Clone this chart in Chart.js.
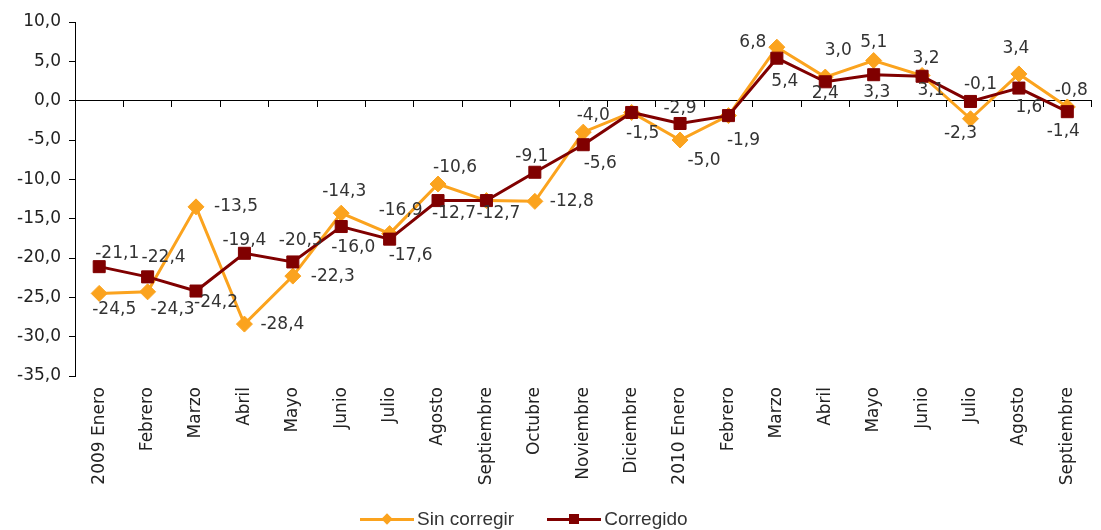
<!DOCTYPE html>
<html>
<head>
<meta charset="utf-8">
<script src="https://cdn.jsdelivr.net/npm/chart.js@4.4.0/dist/chart.umd.min.js"></script>
<style>
	body { margin: 0; background: #fff; }
	#wrap { position: relative; width: 1101px; height: 530px; }
	#legend { position: absolute; left: 360px; top: 508px; display: flex; align-items: center;
		font-family: 'Liberation Sans', Arial, sans-serif; font-size: 19px; color: #333; }
	.item { display: flex; align-items: center; }
	.swatch { position: relative; width: 54px; height: 3px; margin-right: 3px; }
	.mark { position: absolute; top: 50%; left: 50%; }
</style>
</head>
<body>
<div id="wrap">
	<canvas id="chart" width="1101" height="530"></canvas>
	<div id="legend"></div>
</div>
<script>
const months = ['2009 Enero', 'Febrero', 'Marzo', 'Abril', 'Mayo', 'Junio', 'Julio', 'Agosto',
	'Septiembre', 'Octubre', 'Noviembre', 'Diciembre', '2010 Enero', 'Febrero', 'Marzo', 'Abril',
	'Mayo', 'Junio', 'Julio', 'Agosto', 'Septiembre'];

const sinCorregir = [-24.5, -24.3, -13.5, -28.4, -22.3, -14.3, -16.9, -10.6, -12.7, -12.8, -4.0,
	-1.5, -5.0, -1.9, 6.8, 3.0, 5.1, 3.2, -2.3, 3.4, -0.8];
const corregido = [-21.1, -22.4, -24.2, -19.4, -20.5, -16.0, -17.6, -12.7, -12.7, -9.1, -5.6,
	-1.5, -2.9, -1.9, 5.4, 2.4, 3.3, 3.1, -0.1, 1.6, -1.4];

const yTicks = [-35, -30, -25, -20, -15, -10, -5, 0, 5, 10];

// label offsets from each point, null = no label shown
const sinLabelPos = [[15, 16], [25, 18], [40, 0], [38, 0], [40, 0], [3, -22], [11, -23], [17, -16],
	null, [37, 0], [10, -17], [11, 21], [24, 21], null, [-24, -5], [13, -26], [0, -18], [4, -17],
	[-10, 15], [-3, -25], [4, -16]];
const corLabelPos = [[18, -13], [16, -19], [20, 12], [0, -13], [8, -21], [12, 21], [21, 16], [16, 13],
	[12, 13], [-3, -16], [17, 19], null, [0, -15], [15, 25], [8, 23], [0, 12], [3, 18], [9, 14],
	[10, -17], [10, 19], [-4, 20]];

const ORANGE = '#FBA31E';
const RED = '#800000';
const fmt = v => v.toFixed(1).replace('.', ',');

const pointLabels = {
	id: 'pointLabels',
	afterDatasetsDraw(chart) {
		const ctx = chart.ctx;
		ctx.save();
		ctx.font = '17px "DejaVu Sans"';
		ctx.fillStyle = '#333';
		ctx.textAlign = 'center';
		ctx.textBaseline = 'middle';
		chart.data.datasets.forEach((ds, di) => {
			const meta = chart.getDatasetMeta(di);
			meta.data.forEach((pt, i) => {
				const off = ds.labelPos[i];
				if (!off) return;
				ctx.fillText(fmt(ds.data[i]), pt.x + off[0], pt.y + off[1]);
			});
		});
		ctx.restore();
	}
};

const chart = new Chart(document.getElementById('chart'), {
	type: 'line',
	data: {
		labels: months,
		datasets: [{
			label: 'Sin corregir',
			data: sinCorregir,
			labelPos: sinLabelPos,
			borderColor: ORANGE,
			backgroundColor: ORANGE,
			borderWidth: 3,
			pointStyle: 'rectRot',
			pointRadius: 8,
			pointBorderWidth: 1,
			order: 1
		}, {
			label: 'Corregido',
			data: corregido,
			labelPos: corLabelPos,
			borderColor: RED,
			backgroundColor: RED,
			borderWidth: 3,
			pointStyle: 'rect',
			pointRadius: 8.5,
			pointBorderWidth: 1,
			order: 0
		}]
	},
	options: {
		responsive: false,
		animation: false,
		layout: { padding: { top: 22, right: 0, bottom: 0, left: 0 } },
		plugins: { legend: { display: false }, tooltip: { enabled: false } },
		scales: {
			x: {
				type: 'category',
				offset: true,
				grid: { display: false, drawTicks: false },
				border: { display: false },
				ticks: {
					minRotation: 90, maxRotation: 90, autoSkip: false, padding: 11,
					color: '#222', font: { family: 'DejaVu Sans', size: 17 }
				},
				afterFit(scale) { scale.height = 154; }
			},
			x0: {
				type: 'category',
				position: { y: 0 },
				offset: true,
				ticks: { display: false },
				grid: { drawOnChartArea: false, offset: true, tickLength: 6, color: '#000' },
				border: { color: '#000', width: 1 }
			},
			y: {
				min: -35,
				max: 10,
				afterBuildTicks(scale) { scale.ticks = yTicks.map(v => ({ value: v })); },
				ticks: { callback: v => fmt(v), color: '#222', padding: 8,
					font: { family: 'DejaVu Sans', size: 17 } },
				grid: { drawOnChartArea: false, tickLength: 6, color: '#000' },
				border: { color: '#000', width: 1 },
				afterFit(scale) { scale.width = 75; }
			}
		}
	},
	plugins: [pointLabels]
});

// html legend: line with marker, like the original
const legend = document.getElementById('legend');
chart.data.datasets.forEach((ds, i) => {
	const item = document.createElement('div');
	item.className = 'item';
	item.style.marginRight = i === 0 ? '33px' : '0';
	const sw = document.createElement('span');
	sw.className = 'swatch';
	sw.style.background = ds.borderColor;
	const mk = document.createElement('span');
	mk.className = 'mark';
	mk.style.background = ds.borderColor;
	if (ds.pointStyle === 'rectRot') {
		mk.style.width = '8px'; mk.style.height = '8px';
		mk.style.transform = 'translate(-50%, -50%) rotate(45deg)';
	} else {
		mk.style.width = '10px'; mk.style.height = '10px';
		mk.style.transform = 'translate(-50%, -50%)';
	}
	sw.appendChild(mk);
	const txt = document.createElement('span');
	txt.textContent = ds.label;
	item.appendChild(sw);
	item.appendChild(txt);
	legend.appendChild(item);
});
</script>
</body>
</html>
